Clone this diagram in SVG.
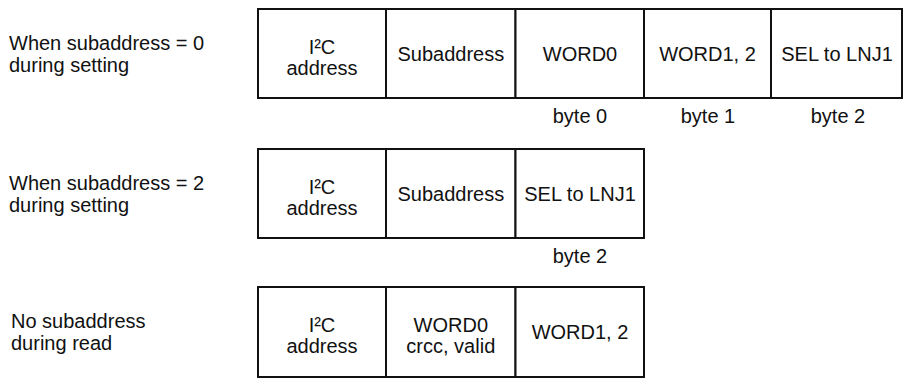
<svg xmlns="http://www.w3.org/2000/svg" width="904" height="387" viewBox="0 0 904 387">
<style>
text{font-family:"Liberation Sans",Arial,Helvetica,sans-serif;font-size:20px;fill:#111}
.c{text-anchor:middle}
.cell{fill:#fff;stroke:#111;stroke-width:2}
</style>
<rect width="904" height="387" fill="#fff"/>

<!-- Row 1 -->
<g id="row1-label"><text x="9" y="50">When subaddress = 0</text><text x="9" y="71.5">during setting</text></g>
<g id="r1-i2c"><rect class="cell" x="258" y="9" width="128" height="89"/><text class="c" x="322" y="54">I²C</text><text class="c" x="322" y="74.5">address</text></g>
<g id="r1-sub"><rect class="cell" x="386" y="9" width="129.5" height="89"/><text class="c" x="450.8" y="60.5">Subaddress</text></g>
<g id="r1-word0"><rect class="cell" x="515.5" y="9" width="128.5" height="89"/><text class="c" x="580" y="60.5">WORD0</text></g>
<g id="r1-word12"><rect class="cell" x="644" y="9" width="127" height="89"/><text class="c" x="707.5" y="60.5">WORD1, 2</text></g>
<g id="r1-sel"><rect class="cell" x="771" y="9" width="131" height="89"/><text class="c" x="837" y="60.5">SEL to LNJ1</text></g>
<g id="r1-bytes"><text class="c" x="580" y="123">byte 0</text><text class="c" x="708" y="123">byte 1</text><text class="c" x="838" y="123">byte 2</text></g>

<!-- Row 2 -->
<g id="row2-label"><text x="9" y="190">When subaddress = 2</text><text x="9" y="211.5">during setting</text></g>
<g id="r2-i2c"><rect class="cell" x="258" y="149" width="128" height="89"/><text class="c" x="322" y="194">I²C</text><text class="c" x="322" y="214.5">address</text></g>
<g id="r2-sub"><rect class="cell" x="386" y="149" width="129.5" height="89"/><text class="c" x="450.8" y="200.5">Subaddress</text></g>
<g id="r2-sel"><rect class="cell" x="515.5" y="149" width="128.5" height="89"/><text class="c" x="580" y="200.5">SEL to LNJ1</text></g>
<g id="r2-bytes"><text class="c" x="580" y="263">byte 2</text></g>

<!-- Row 3 -->
<g id="row3-label"><text x="11" y="328">No subaddress</text><text x="11" y="349.5">during read</text></g>
<g id="r3-i2c"><rect class="cell" x="258" y="287" width="128" height="90"/><text class="c" x="322" y="332">I²C</text><text class="c" x="322" y="352.5">address</text></g>
<g id="r3-word0"><rect class="cell" x="386" y="287" width="129.5" height="90"/><text class="c" x="450.8" y="332">WORD0</text><text class="c" x="450.8" y="352.5">crcc, valid</text></g>
<g id="r3-word12"><rect class="cell" x="515.5" y="287" width="128.5" height="90"/><text class="c" x="580" y="339">WORD1, 2</text></g>
</svg>
